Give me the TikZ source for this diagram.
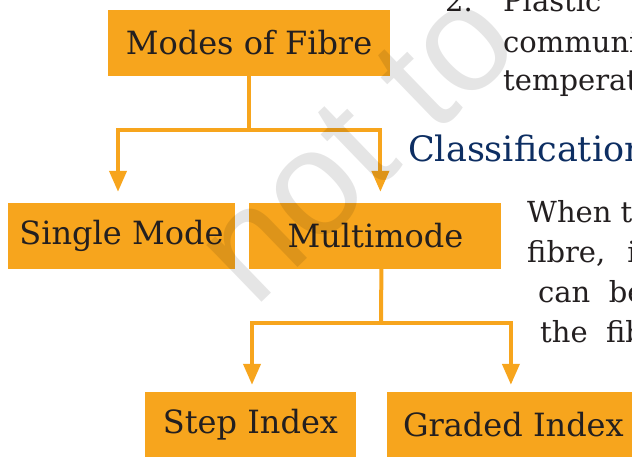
\documentclass[tikz,border=0pt]{standalone}
\usepackage{xcolor}
\definecolor{colorBox}{RGB}{247,165,29}
\definecolor{colorHeading}{RGB}{13,46,98}
\definecolor{colorText}{RGB}{35,31,32}
\usepackage{fontspec}
\setmainfont{DejaVu Serif}
\newfontfamily\markfont{Liberation Sans}
\usepackage{tikz}
\usetikzlibrary{arrows.meta, positioning}
\tikzset{modebox/.style={fill=colorBox, text=colorText, minimum height=66pt, inner sep=0pt, font=\fontsize{32}{38}\selectfont}}
\tikzset{link/.style={draw=colorBox, line width=4pt}}
\tikzset{pagetext/.style={anchor=base west, inner sep=0pt, text=colorText, font=\fontsize{29}{34}\selectfont}}

\begin{document}
\begin{tikzpicture}[x=1pt, y=-1pt, >={Triangle[width=17pt,length=21pt]}, node distance=14pt]
\useasboundingbox (0,0) rectangle (632,456);
\clip (0,0) rectangle (632,456);
\node[modebox, minimum width=282pt] (modes) at (249,43) {Modes of Fibre};
\node[modebox, minimum width=227pt] (single) at (121.5,236) {Single Mode};
\node[modebox, minimum width=252pt, right=14pt of single] (multi) {Multimode};
\node[modebox, minimum width=211pt] (step) at (250.5,425) {Step Index};
\node[modebox, minimum width=252pt, right=31pt of step] (graded) {Graded Index};
\coordinate (fork1) at (249,130);
\coordinate (fork2) at (381,323);
\draw[link] (modes.south) -- (fork1);
\draw[link, ->, shorten >=11pt] (fork1) -| ([xshift=-3.5pt]single.north);
\draw[link, ->, shorten >=11pt] (fork1) -| ([xshift=5pt]multi.north);
\draw[link] ([xshift=6pt]multi.south) -- (fork2);
\draw[link, ->, shorten >=7pt] (fork2) -| ([xshift=1.5pt]step.north);
\draw[link, ->, shorten >=7pt] (fork2) -| ([xshift=-2.5pt]graded.north);
\node[pagetext] (num) at (445,11) {2.};
\node[pagetext] (plastic) at (503,11) {Plastic};
\node[pagetext] (line1) at (503,52) {communication};
\node[pagetext] (line2) at (503,90) {temperature};
\node[pagetext, text=colorHeading, font=\fontsize{35}{42}\selectfont] (heading) at (408,161) {Classification};
\node[pagetext] (para1) at (527,222) {When the};
\node[pagetext] (para2) at (527,262) {fibre,\hspace{22pt}it};
\node[pagetext] (para3) at (538,302) {can\ \ be};
\node[pagetext] (para4) at (540,342) {the\ \ fibre};
\node[anchor=base west, rotate=44, inner sep=0pt, text=black, text opacity=0.1, font=\markfont\fontsize{150}{150}\selectfont] (mark) at (254,310) {not to};
\end{tikzpicture}
\end{document}
